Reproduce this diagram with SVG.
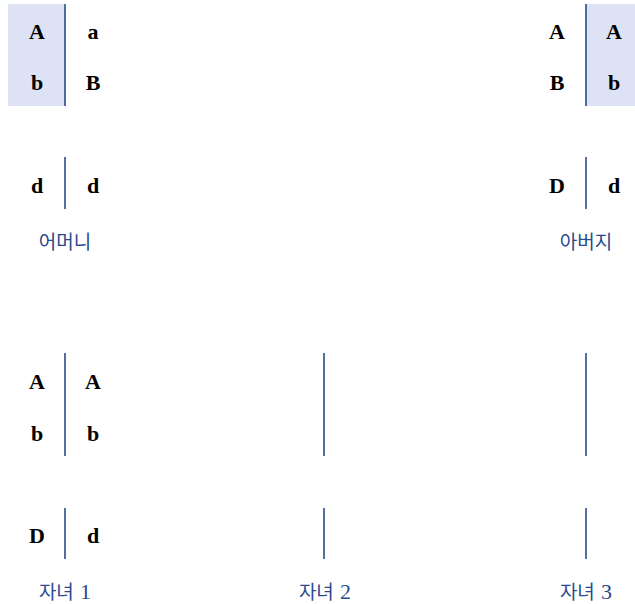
<svg xmlns="http://www.w3.org/2000/svg" width="635" height="604" viewBox="0 0 635 604">
<style>
.g{font-family:"Liberation Serif","DejaVu Serif",serif;font-weight:bold;font-size:22px;fill:#000;text-anchor:middle}
.lb{font-family:"Noto Sans CJK KR","Noto Sans",sans-serif;font-size:19px;fill:#2b4a8b;text-anchor:middle}
.n{font-family:"Liberation Serif","DejaVu Serif",serif;font-size:22px}
.ln{stroke:#2b4a8b;stroke-width:1.6;fill:none}
.sh{fill:#dde3f5}
</style>
<g id="mother">
<rect class="sh" x="8" y="4" width="57" height="102"/>
<text class="g" x="37" y="39">A</text><text class="g" x="93" y="39">a</text>
<text class="g" x="37" y="90">b</text><text class="g" x="93" y="90">B</text>
<text class="g" x="37" y="193">d</text><text class="g" x="93" y="193">d</text>
<text class="lb" x="65" y="249">어머니</text>
</g>
<g id="father">
<rect class="sh" x="586" y="4" width="49" height="102"/>
<text class="g" x="557" y="39">A</text><text class="g" x="614" y="39">A</text>
<text class="g" x="557" y="90">B</text><text class="g" x="614" y="90">b</text>
<text class="g" x="557" y="193">D</text><text class="g" x="614" y="193">d</text>
<text class="lb" x="586" y="249">아버지</text>
</g>
<g id="child1">
<text class="g" x="37" y="389">A</text><text class="g" x="93" y="389">A</text>
<text class="g" x="37" y="441">b</text><text class="g" x="93" y="441">b</text>
<text class="g" x="37" y="543">D</text><text class="g" x="93" y="543">d</text>
<text class="lb" x="65" y="599">자녀 <tspan class="n" dx="2">1</tspan></text>
</g>
<g id="child2">
<text class="lb" x="325" y="599">자녀 <tspan class="n" dx="2">2</tspan></text>
</g>
<g id="child3">
<text class="lb" x="586" y="599">자녀 <tspan class="n" dx="2">3</tspan></text>
</g>
<g id="connectors">
<line class="ln" x1="65" y1="4" x2="65" y2="106"/>
<line class="ln" x1="65" y1="157" x2="65" y2="209"/>
<line class="ln" x1="586" y1="4" x2="586" y2="106"/>
<line class="ln" x1="586" y1="157" x2="586" y2="209"/>
<line class="ln" x1="65" y1="353" x2="65" y2="456"/>
<line class="ln" x1="65" y1="508" x2="65" y2="559"/>
<line class="ln" x1="324" y1="353" x2="324" y2="456"/>
<line class="ln" x1="324" y1="508" x2="324" y2="559"/>
<line class="ln" x1="586" y1="353" x2="586" y2="456"/>
<line class="ln" x1="586" y1="508" x2="586" y2="559"/>
</g>
</svg>
